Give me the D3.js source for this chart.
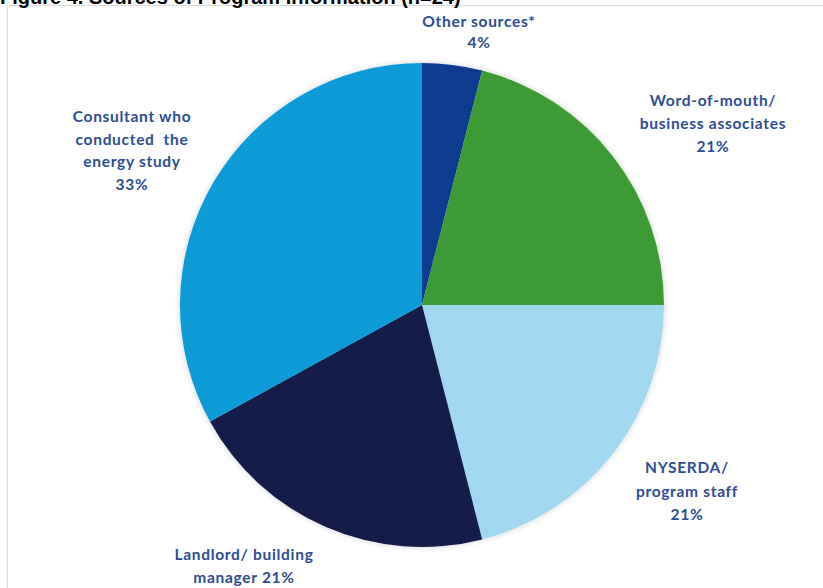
<!DOCTYPE html>
<html>
<head>
<meta charset="utf-8">
<script src="https://cdn.jsdelivr.net/npm/d3@7"></script>
<style>
  html, body { margin: 0; padding: 0; background: #ffffff; }
  svg { display: block; }
</style>
</head>
<body>
<svg id="chart" width="823" height="588"></svg>
<script>
// Sources of program information (share of respondents, %)
const categories = [
  "Other sources*",
  "Word-of-mouth/ business associates",
  "NYSERDA/ program staff",
  "Landlord/ building manager",
  "Consultant who conducted the energy study"
];
const values = [4, 21, 21, 21, 33];
const colors = ["#0d3b8f", "#3e9b35", "#a2d7f0", "#131f4a", "#0b9bd8"];
// Label lines for each slice (last line carries the percentage)
const labelLines = [
  ["Other sources*", "4%"],
  ["Word-of-mouth/", "business associates", "21%"],
  ["NYSERDA/", "program staff", "21%"],
  ["Landlord/ building", "manager 21%"],
  ["Consultant who", "conducted  the", "energy study", "33%"]
];
const titleText = "Figure 4. Sources of Program Information (n=24)";

const svg = d3.select("#chart");
const W = 823, H = 588;
const cx = 422, cy = 305, R = 242;

// panel frame
svg.append("rect")
  .attr("x", 7.5).attr("y", 5.5)
  .attr("width", W + 20).attr("height", H + 20)
  .attr("fill", "#ffffff")
  .attr("stroke", "#dcdcdc").attr("stroke-width", 1.2);

// title, partly running off the top edge
svg.append("text")
  .attr("x", 0).attr("y", 4)
  .attr("font-family", "Liberation Sans, Arial, sans-serif")
  .attr("font-weight", "bold")
  .attr("font-size", 20)
  .attr("fill", "#000")
  .text(titleText);

const defs = svg.append("defs");
const shadow = defs.append("filter").attr("id", "pieShadow")
  .attr("x", "-10%").attr("y", "-10%").attr("width", "120%").attr("height", "120%");
shadow.append("feGaussianBlur").attr("in", "SourceAlpha").attr("stdDeviation", 3).attr("result", "b");
shadow.append("feComponentTransfer").attr("in", "b").attr("result", "s")
  .append("feFuncA").attr("type", "linear").attr("slope", 0.18);
const merge = shadow.append("feMerge");
merge.append("feMergeNode").attr("in", "s");
merge.append("feMergeNode").attr("in", "SourceGraphic");

const pie = d3.pie().sort(null).value(d => d);
const arc = d3.arc().innerRadius(0).outerRadius(R);
const arcs = pie(values);

const g = svg.append("g")
  .attr("transform", `translate(${cx},${cy})`)
  .attr("filter", "url(#pieShadow)");

g.selectAll("path")
  .data(arcs)
  .join("path")
  .attr("d", arc)
  .attr("fill", (d, i) => colors[i]);

// label anchor points (center x, first baseline y)
const labelPos = [
  { x: 479, y: 27 },
  { x: 713, y: 106 },
  { x: 687, y: 473 },
  { x: 244, y: 560 },
  { x: 132, y: 122 }
];
const lineGap = [21, 23, 23.5, 23, 22.5];

const labels = svg.append("g")
  .attr("font-family", "Lato, 'Open Sans', sans-serif")
  .attr("font-weight", "bold")
  .attr("font-size", 15.5)
  .attr("letter-spacing", 0.7)
  .attr("fill", "#2d4d92")
  .attr("text-anchor", "middle");

labelLines.forEach((lines, i) => {
  const t = labels.append("text")
    .attr("x", labelPos[i].x)
    .attr("y", labelPos[i].y)
    .attr("xml:space", "preserve");
  lines.forEach((ln, j) => {
    t.append("tspan")
      .attr("x", labelPos[i].x)
      .attr("dy", j === 0 ? 0 : lineGap[i])
      .text(ln);
  });
});
</script>
</body>
</html>
